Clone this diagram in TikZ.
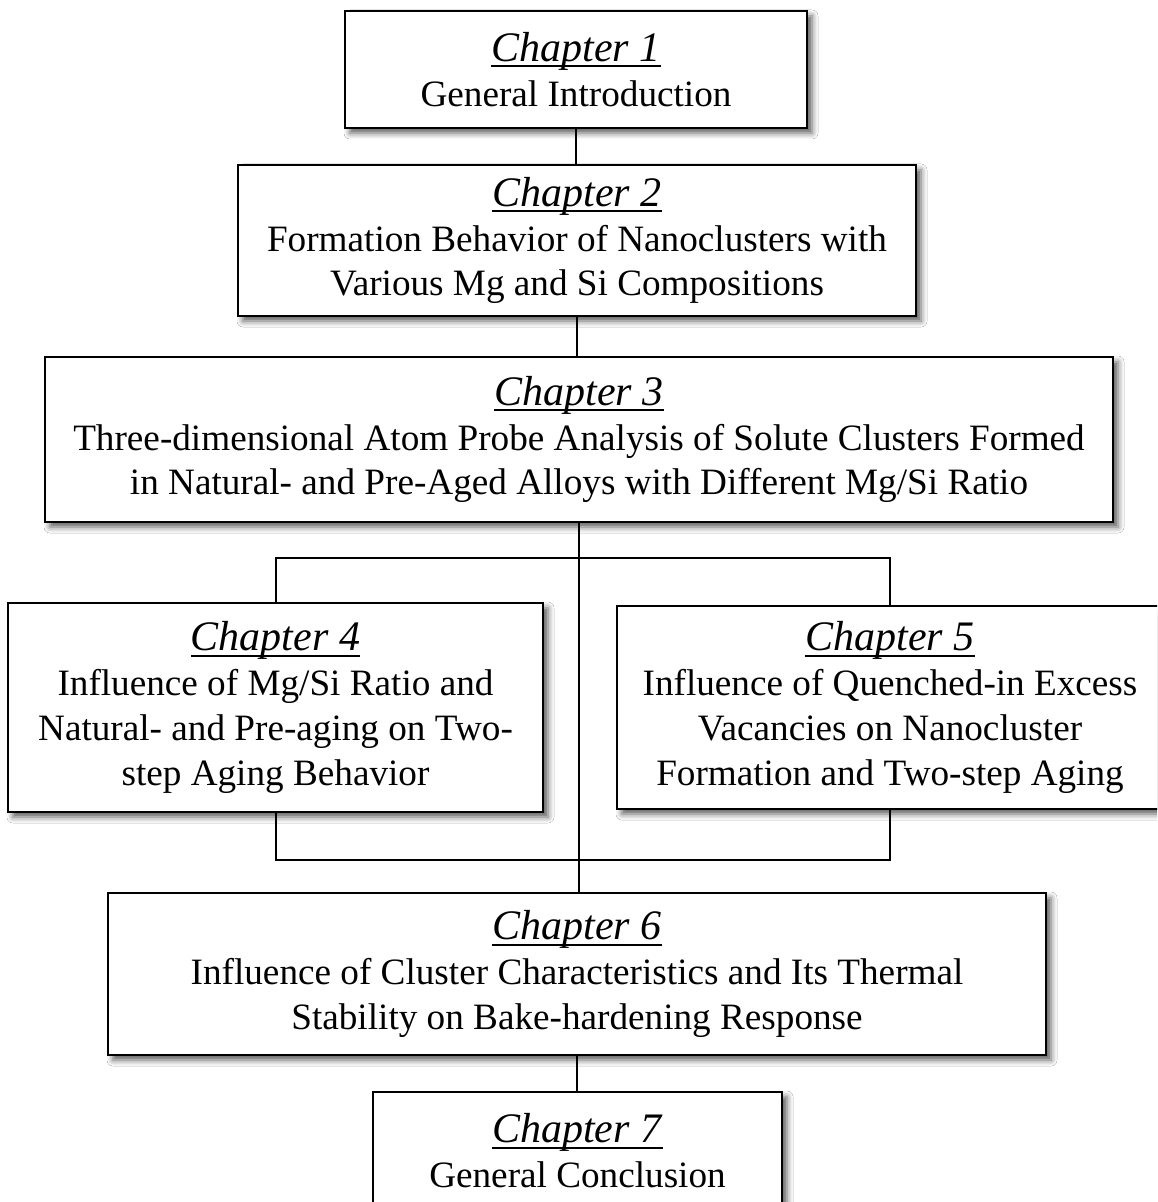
\documentclass[tikz,border=0pt]{standalone}
\usepackage{fontspec}
\setmainfont{Liberation Serif}
\usetikzlibrary{shadows.blur}
\newsavebox\chapsavebox
\newcommand\chaptitle[1]{{\fontsize{21}{22.4}\selectfont\sbox\chapsavebox{\textit{#1}}\rlap{\rule[-3pt]{\wd\chapsavebox}{1pt}}\usebox\chapsavebox}}
\tikzset{
  chapbox/.style={draw=black, line width=1.2pt, fill=white, align=center,
    inner sep=0pt, font=\fontsize{18.6}{22.4}\selectfont,
    blur shadow={shadow xshift=2.5pt, shadow yshift=-2.5pt, shadow blur radius=3pt, shadow opacity=65}},
  link/.style={line width=1pt, draw=black}
}
\begin{document}
\begin{tikzpicture}[x=0.5pt, y=-0.5pt]
\useasboundingbox (0,0) rectangle (1157,1202);
\clip (0,0) rectangle (1157,1202);
\fill[white] (0,0) rectangle (1157,1202);
\node[chapbox, minimum width=231pt, minimum height=58.5pt] (c1) at (576,69.5)
  {\chaptitle{Chapter 1}\\General Introduction};
\node[chapbox, minimum width=339pt, minimum height=75.5pt] (c2) at (577,240.5)
  {\chaptitle{Chapter 2}\\Formation Behavior of Nanoclusters with\\Various Mg and Si Compositions};
\node[chapbox, minimum width=534pt, minimum height=82.5pt] (c3) at (579,439.5)
  {\chaptitle{Chapter 3}\\Three-dimensional Atom Probe Analysis of Solute Clusters Formed\\in Natural- and Pre-Aged Alloys with Different Mg/Si Ratio};
\node[chapbox, minimum width=267.5pt, minimum height=104.5pt] (c4) at (275.5,707.5)
  {\chaptitle{Chapter 4}\\Influence of Mg/Si Ratio and\\Natural- and Pre-aging on Two-\\step Aging Behavior};
\node[chapbox, minimum width=273pt, minimum height=101.5pt] (c5) at (890,707.5)
  {\chaptitle{Chapter 5}\\Influence of Quenched-in Excess\\Vacancies on Nanocluster\\Formation and Two-step Aging};
\node[chapbox, minimum width=469pt, minimum height=81pt] (c6) at (577,974)
  {\chaptitle{Chapter 6}\\Influence of Cluster Characteristics and Its Thermal\\Stability on Bake-hardening Response};
\node[chapbox, minimum width=204.5pt, minimum height=58.5pt] (c7) at (577.5,1150.5)
  {\chaptitle{Chapter 7}\\General Conclusion};
\coordinate (tl) at (277,558);
\coordinate (bl) at (277,860);
\draw[link] (c1.south) -- (c1.south |- c2.north);
\draw[link] (c2.south) -- (c2.south |- c3.north);
\draw[link] (c3.south) -- (c3.south |- c6.north);
\draw[link] (c4.north) -- (c4.north |- tl) -- (c5.north |- tl) -- (c5.north);
\draw[link] (c4.south) -- (c4.south |- bl) -- (c5.south |- bl) -- (c5.south);
\draw[link] (c6.south) -- (c6.south |- c7.north);
\end{tikzpicture}
\end{document}
